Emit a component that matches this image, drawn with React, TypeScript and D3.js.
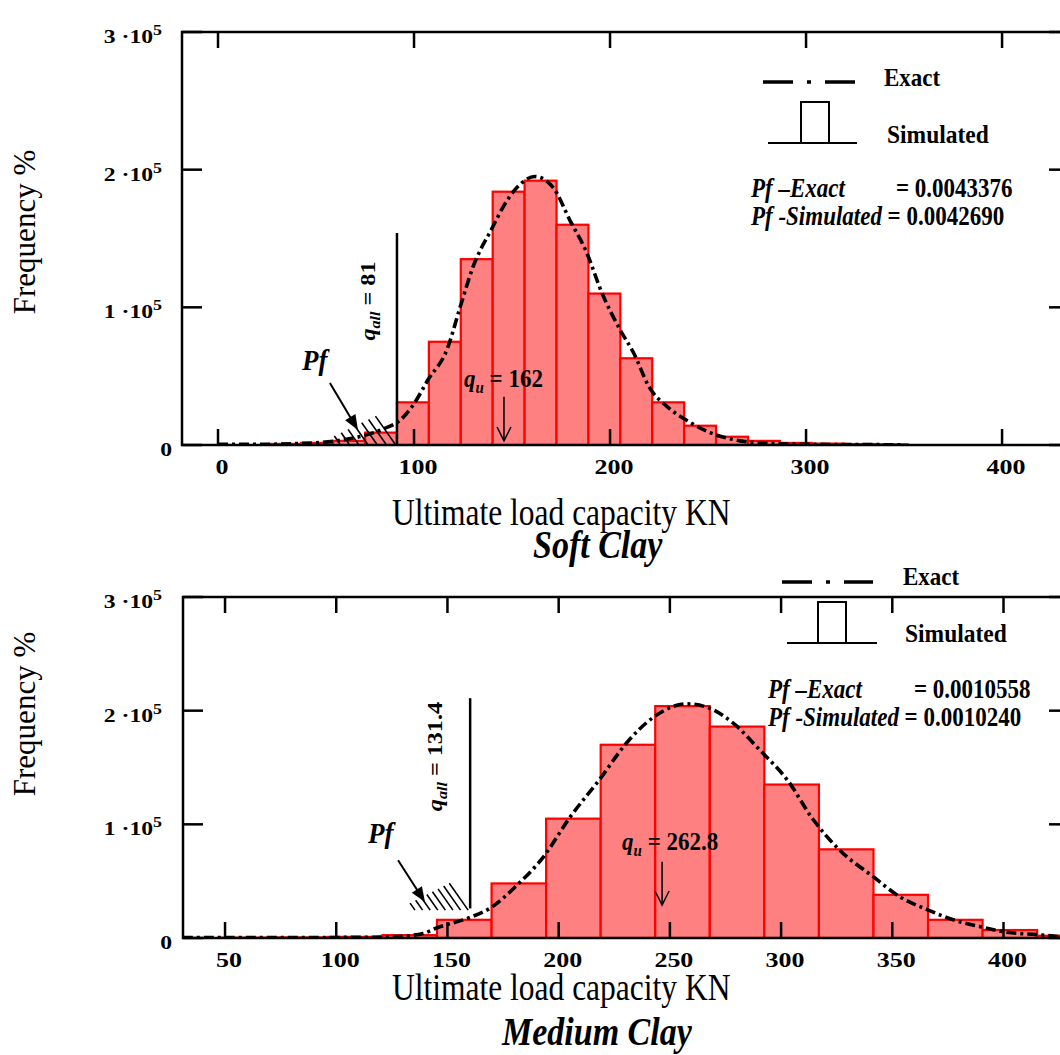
import React from "react";
import * as d3 from "d3";

// ---------- Soft clay ----------
const softBinStart = 9.9;
const softBinWidth = 16.28;
const softFreq = [
  0, 800, 1500, 3000, 9000, 31000, 75000, 135000, 184000, 192000, 160000,
  110000, 63000, 31000, 14000, 6000, 3000, 1500, 1000, 700, 500,
];
const softExactX = [
  0, 20, 40, 60, 75, 85, 92.9, 100, 107, 117, 123.5, 130, 140, 145.5, 152.5,
  161.7, 171, 179.6, 188, 196, 205, 212, 220, 229, 239, 251, 263, 276, 300, 350,
];
const softExactY = [
  500, 500, 1000, 3000, 7000, 12000, 18000, 30000, 47000, 70000, 100000,
  129000, 158000, 173000, 187000, 195000, 187000, 163000, 140000, 110000,
  84000, 67000, 42000, 28000, 18000, 9000, 4000, 1500, 500, 200,
];
const softXTicks = [0, 100, 200, 300, 400];

// ---------- Medium clay ----------
const mediumBinStart = 22.65;
const mediumBinWidth = 24.53;
const mediumFreq = [
  0, 300, 500, 1000, 2500, 16000, 48000, 105000, 170000, 204000, 186000,
  135000, 78000, 38000, 16000, 7000, 2000,
];
const mediumExactX = [
  31, 60, 100, 125, 139, 145.3, 160, 169, 181, 193, 205, 218.6, 230.7, 242.5,
  257.7, 266.7, 278.5, 290.6, 302.8, 314.5, 326.5, 341.4, 353.6, 365.7, 377.4,
  389.5, 401.6, 415, 426,
];
const mediumExactY = [
  500, 500, 500, 1000, 4000, 9000, 18000, 26000, 46000, 71000, 106000, 140000,
  172000, 194000, 206000, 203000, 189000, 165000, 139000, 104000, 77000, 54000,
  36000, 25000, 16000, 10000, 5000, 3000, 1000,
];
const mediumXTicks = [50, 100, 150, 200, 250, 300, 350, 400];

const yTicks = [0, 100000, 200000, 300000];

const FONT = "'Liberation Serif', 'Times New Roman', serif";

type TProps = {
  x: number;
  y: number;
  size: number;
  bold?: boolean;
  italic?: boolean;
  sx?: number;
  sy?: number;
  rotate?: number;
  anchor?: string;
  children?: React.ReactNode;
};

const T = ({ x, y, size, bold, italic, sx = 1, sy = 1, rotate = 0, anchor = "start", children }: TProps) => (
  <text
    transform={`translate(${x},${y}) rotate(${rotate}) scale(${sx},${sy})`}
    fontSize={size}
    fontFamily={FONT}
    fontWeight={bold ? "bold" : "normal"}
    fontStyle={italic ? "italic" : "normal"}
    textAnchor={anchor}
    fill="#000"
  >
    {children}
  </text>
);

const Panel = (p: any) => {
  const x = d3.scaleLinear().domain(p.xDomain).range([p.left, p.right]);
  const y = d3.scaleLinear().domain([0, 300000]).range([p.bottom, p.top]);

  const line = d3
    .line<number>()
    .x((_, i) => x(p.exactX[i]))
    .y((d) => y(d))
    .curve(d3.curveMonotoneX);

  const bins = p.freq.map((f: number, i: number) => ({
    x0: p.binStart + i * p.binWidth,
    x1: p.binStart + (i + 1) * p.binWidth,
    f,
  }));

  // hatching for the failure region
  const h = p.hatch;
  const hatch = d3.range(h.n).map((i) => {
    const t = i / (h.n - 1);
    const xb = x(h.x0 + t * (h.x1 - h.x0));
    const yb = y(h.yBottom);
    const yt = y(h.yTopLeft + t * (h.yTopRight - h.yTopLeft));
    return { x1: xb - 0.7 * (yb - yt), y1: yt, x2: xb, y2: yb };
  });

  // Pf arrow with filled head
  const a = p.pfArrow;
  const ax1 = x(a.x0), ay1 = y(a.y0), ax2 = x(a.x1), ay2 = y(a.y1);
  const len = Math.hypot(ax2 - ax1, ay2 - ay1);
  const ux = (ax2 - ax1) / len, uy = (ay2 - ay1) / len;
  const hl = 15, hw = 6;
  const head = [
    [ax2, ay2],
    [ax2 - ux * hl - uy * hw, ay2 - uy * hl + ux * hw],
    [ax2 - ux * hl + uy * hw, ay2 - uy * hl - ux * hw],
  ];

  const q = p.qu;
  const qx = x(q.arrowX);
  const qTip = y(q.arrowY1);

  const lg = p.legend;
  const clipId = `clip-${p.id}`;

  return (
    <g>
      <clipPath id={clipId}>
        <rect x={p.left} y={p.top} width={p.right - p.left} height={p.bottom - p.top} />
      </clipPath>
      <g clipPath={`url(#${clipId})`}>
        {bins.map((b: any, i: number) => (
          <rect
            key={i}
            x={x(b.x0)}
            y={y(b.f)}
            width={x(b.x1) - x(b.x0)}
            height={y(0) - y(b.f)}
            fill="#ff8080"
            stroke="#ff0000"
            strokeWidth={2.2}
          />
        ))}
        <path
          d={line(p.exactY) || ""}
          fill="none"
          stroke="#000"
          strokeWidth={3.6}
          strokeDasharray="10 4 3 4"
        />
      </g>

      {hatch.map((s, i) => (
        <line key={i} {...s} stroke="#000" strokeWidth={1.6} />
      ))}

      {/* frame */}
      <rect
        x={p.left}
        y={p.top}
        width={p.right - p.left}
        height={p.bottom - p.top}
        fill="none"
        stroke="#000"
        strokeWidth={2.5}
      />

      {/* x ticks and labels */}
      {p.xTicks.map((t: number) => (
        <g key={t}>
          <line x1={x(t)} x2={x(t)} y1={p.bottom} y2={p.bottom - 16} stroke="#000" strokeWidth={2.5} />
          <line x1={x(t)} x2={x(t)} y1={p.top} y2={p.top + 16} stroke="#000" strokeWidth={2.5} />
          <T x={x(t) + 4} y={p.bottom + 29} size={20} bold sx={1.3} anchor="middle">
            {t}
          </T>
        </g>
      ))}

      {/* y ticks and labels */}
      {yTicks.map((t) => (
        <g key={t}>
          <line x1={p.left} x2={p.left + 20} y1={y(t)} y2={y(t)} stroke="#000" strokeWidth={2.5} />
          <line x1={p.right} x2={p.right - 15} y1={y(t)} y2={y(t)} stroke="#000" strokeWidth={2.5} />
          {t === 0 ? (
            <T x={172} y={y(t) + 11} size={18.5} bold sx={1.28} anchor="end">0</T>
          ) : (
            <T x={162} y={y(t) + 11} size={18.5} bold sx={1.28} anchor="end">
              {`${t / 100000} \u00B710`}
              <tspan fontSize={14} dy={-8}>5</tspan>
            </T>
          )}
        </g>
      ))}

      {/* axis titles */}
      <T x={35} y={p.yTitleY} size={31} rotate={-90} anchor="middle">Frequency %</T>
      <T x={392} y={p.xTitleY} size={31.5} sy={1.2}>Ultimate load capacity KN</T>
      <T x={p.nameX} y={p.nameY} size={34} bold italic sy={1.2}>{p.name}</T>

      {/* q_all line and label */}
      <line
        x1={x(p.qall.x)}
        x2={x(p.qall.x)}
        y1={y(p.qall.top)}
        y2={y(p.qall.bottom)}
        stroke="#000"
        strokeWidth={2.5}
      />
      <T x={x(p.qall.labelX)} y={y(p.qall.labelY)} size={21} bold rotate={-90} sx={1.15} anchor="middle">
        <tspan fontStyle="italic">q</tspan>
        <tspan fontStyle="italic" fontSize={14} dy={5}>all</tspan>
        <tspan dy={-5}>{` = ${p.qall.text}`}</tspan>
      </T>

      {/* Pf label and arrow */}
      <T x={x(p.pfLabel.x)} y={y(p.pfLabel.y)} size={27} bold italic sy={1.1}>Pf</T>
      <line x1={ax1} y1={ay1} x2={ax2 - ux * 10} y2={ay2 - uy * 10} stroke="#000" strokeWidth={2} />
      <polygon points={head.map((d) => d.join(",")).join(" ")} fill="#000" />

      {/* q_u label and arrow */}
      <T x={x(q.labelX)} y={y(q.labelY)} size={23} bold sy={1.1}>
        <tspan fontStyle="italic">q</tspan>
        <tspan fontStyle="italic" fontSize={15} dy={5}>u</tspan>
        <tspan dy={-5}>{` = ${q.text}`}</tspan>
      </T>
      <line x1={qx} x2={qx} y1={y(q.arrowY0)} y2={qTip} stroke="#000" strokeWidth={1.5} />
      <polyline
        points={`${qx - 7},${qTip - 14} ${qx},${qTip} ${qx + 7},${qTip - 14}`}
        fill="none"
        stroke="#000"
        strokeWidth={1.5}
      />

      {/* legend */}
      <line
        x1={lg.lineX0}
        x2={lg.lineX1}
        y1={lg.lineY}
        y2={lg.lineY}
        stroke="#000"
        strokeWidth={3.5}
        strokeDasharray="30 14 4 14"
      />
      <T x={lg.exactX} y={lg.exactY} size={23} bold sy={1.1}>Exact</T>
      <rect
        x={lg.boxX}
        y={lg.boxY}
        width={28}
        height={lg.baseY - lg.boxY}
        fill="none"
        stroke="#000"
        strokeWidth={2}
      />
      <line x1={lg.baseX0} x2={lg.baseX1} y1={lg.baseY} y2={lg.baseY} stroke="#000" strokeWidth={2} />
      <T x={lg.simX} y={lg.simY} size={23.5} bold sy={1.1}>Simulated</T>

      <T x={lg.pfX} y={lg.pfY} size={23} bold italic sy={1.15}>Pf –Exact</T>
      <T x={lg.eqX} y={lg.pfY} size={23} bold sy={1.15}>{`= ${p.pfExact}`}</T>
      <T x={lg.pfX} y={lg.pfY + 28} size={23} bold sy={1.15}>
        <tspan fontStyle="italic">Pf -Simulated</tspan>
        <tspan>{` = ${p.pfSim}`}</tspan>
      </T>
    </g>
  );
};

export default function App() {
  return (
    <svg
      width={1060}
      height={1055}
      style={{ position: "absolute", left: 0, top: 0, background: "#fff" }}
    >
      <Panel
        id="soft"
        left={182}
        right={1064}
        top={32}
        bottom={445}
        xDomain={[-18.37, 431.6]}
        binStart={softBinStart}
        binWidth={softBinWidth}
        freq={softFreq}
        exactX={softExactX}
        exactY={softExactY}
        xTicks={softXTicks}
        yTitleY={232}
        xTitleY={525}
        name="Soft Clay"
        nameX={533}
        nameY={558}
        qall={{ x: 91.3, top: 154000, bottom: 0, labelX: 80.1, labelY: 104600, text: "81" }}
        hatch={{ n: 7, x0: 62.2, x1: 90.3, yBottom: 700, yTopLeft: 6500, yTopRight: 21000 }}
        pfLabel={{ x: 42.9, y: 54500 }}
        pfArrow={{ x0: 57.1, y0: 45000, x1: 71.4, y1: 10900 }}
        qu={{ labelX: 125.5, labelY: 42100, text: "162", arrowX: 145.9, arrowY0: 35000, arrowY1: 3000 }}
        legend={{
          lineX0: 763, lineX1: 856, lineY: 82, exactX: 884, exactY: 86,
          boxX: 801, boxY: 102, baseX0: 768, baseX1: 857, baseY: 143,
          simX: 887, simY: 143, pfX: 751, pfY: 197, eqX: 896,
        }}
        pfExact="0.0043376"
        pfSim="0.0042690"
      />
      <Panel
        id="medium"
        left={183}
        right={1064}
        top={597}
        bottom={938}
        xDomain={[31.1, 427.2]}
        binStart={mediumBinStart}
        binWidth={mediumBinWidth}
        freq={mediumFreq}
        exactX={mediumExactX}
        exactY={mediumExactY}
        xTicks={mediumXTicks}
        yTitleY={714}
        xTitleY={1000}
        name="Medium Clay"
        nameX={502}
        nameY={1045}
        qall={{ x: 160.2, top: 211000, bottom: 26000, labelX: 147.5, labelY: 159600, text: "131.4" }}
        hatch={{ n: 8, x0: 135.4, x1: 159.3, yBottom: 24500, yTopLeft: 30700, yTopRight: 48200 }}
        pfLabel={{ x: 114.3, y: 83300 }}
        pfArrow={{ x0: 127.8, y0: 68400, x1: 139.9, y1: 31600 }}
        qu={{ labelX: 228.5, labelY: 77200, text: "262.8", arrowX: 246.5, arrowY0: 67000, arrowY1: 29000 }}
        legend={{
          lineX0: 782, lineX1: 873, lineY: 582, exactX: 903, exactY: 585,
          boxX: 818, boxY: 602, baseX0: 787, baseX1: 877, baseY: 643,
          simX: 905, simY: 642, pfX: 768, pfY: 698, eqX: 914,
        }}
        pfExact="0.0010558"
        pfSim="0.0010240"
      />
    </svg>
  );
}
